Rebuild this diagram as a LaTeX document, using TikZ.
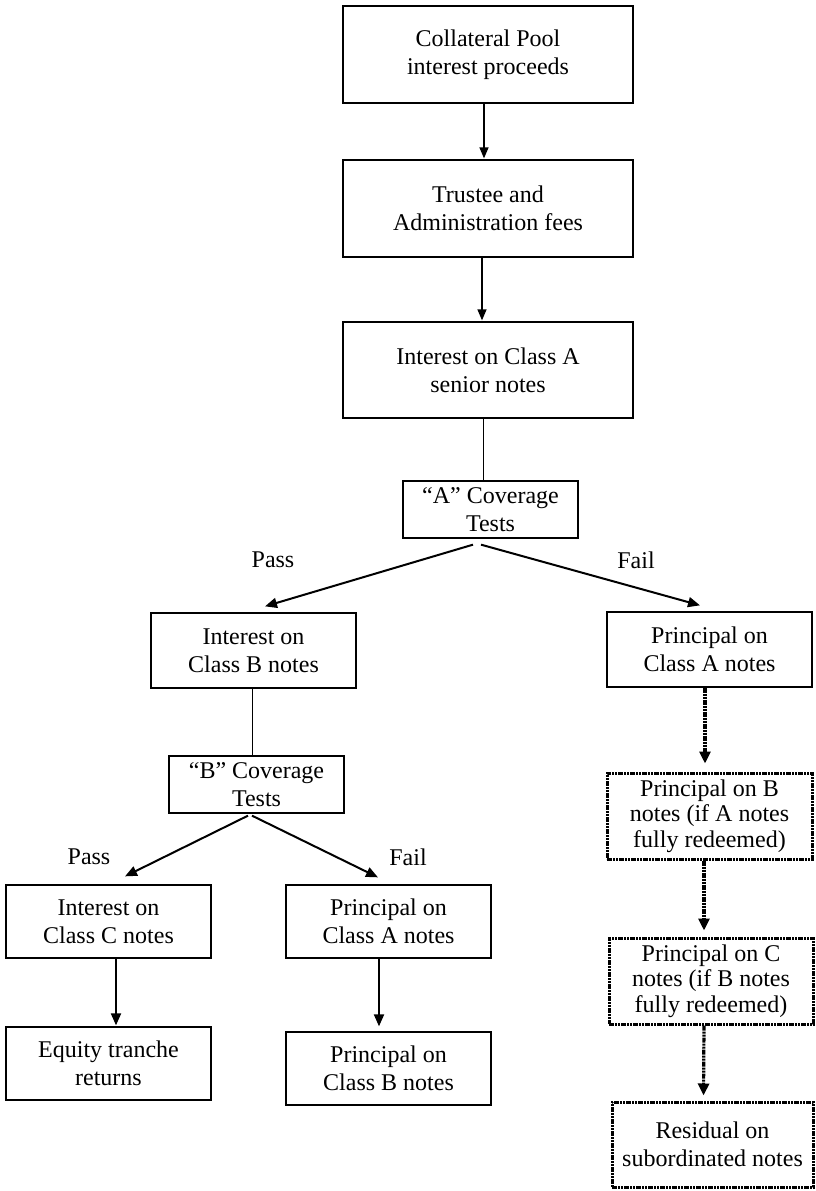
\documentclass[tikz,border=0pt]{standalone}
\usepackage{fontspec}
\setmainfont{Liberation Serif}
\usetikzlibrary{arrows.meta,calc}

\tikzset{
  box/.style={draw, line width=1.3pt, align=center, inner sep=2pt,
    font=\fontsize{24}{28}\selectfont},
  dbox/.style={box, line width=3pt, dashdot, font=\fontsize{24}{25.5}\selectfont},
  dashdot/.style={dash pattern=on 5pt off 1pt on 2pt off 1pt on 2pt off 1pt},
  flow/.style={line width=2pt, -{Triangle[length=12pt,width=10pt]}},
  thinflow/.style={line width=1.4pt, -{Triangle[length=11pt,width=9pt]}},
  link/.style={line width=1pt},
  dflow/.style={line width=3.2pt, dashdot, -{Triangle[length=12pt,width=11pt]}},
  lbl/.style={font=\fontsize{24}{28}\selectfont, inner sep=0pt}
}

\begin{document}
\begin{tikzpicture}[x=1pt,y=-1pt]
  \fill[white] (0,0) rectangle (815,1191);
  \useasboundingbox (0,0) rectangle (815,1191);

  % main trunk
  \node[box, minimum width=290, minimum height=97] (b1) at (488,54.5) {Collateral Pool\\interest proceeds};
  \node[box, minimum width=290, minimum height=97] (b2) at (488,208.5) {Trustee and\\Administration fees};
  \node[box, minimum width=290, minimum height=96] (b3) at (488,370) {Interest on Class A\\senior notes};
  \node[box, minimum width=175, minimum height=57] (tA) at (490.5,509.5) {``A'' Coverage\\Tests};

  % left branch
  \node[box, minimum width=205, minimum height=75] (iB) at (253.5,650.5) {Interest on\\Class B notes};
  \node[box, minimum width=175, minimum height=57] (tB) at (256.5,784.5) {``B'' Coverage\\Tests};
  \node[box, minimum width=205, minimum height=73] (iC) at (108.5,921.5) {Interest on\\Class C notes};
  \node[box, minimum width=205, minimum height=73] (pA2) at (388.5,921.5) {Principal on\\Class A notes};
  \node[box, minimum width=205, minimum height=73] (eq) at (108.5,1063.5) {Equity tranche\\returns};
  \node[box, minimum width=205, minimum height=73] (pB) at (388.5,1068.5) {Principal on\\Class B notes};

  % right branch
  \node[box, minimum width=205, minimum height=75] (pA) at (709.5,649.5) {Principal on\\Class A notes};
  \node[dbox, minimum width=205, minimum height=86] (rB) at (709.5,816) {Principal on B\\notes (if A notes\\fully redeemed)};
  \node[dbox, minimum width=204, minimum height=86] (rC) at (711,981) {Principal on C\\notes (if B notes\\fully redeemed)};
  \node[dbox, minimum width=201, minimum height=85, font=\fontsize{24}{28}\selectfont] (rR) at (712.5,1144.5) {Residual on\\subordinated notes};

  % branch labels
  \node[lbl] (passA) at (273,560) {Pass};
  \node[lbl] (failA) at (636,560) {Fail};
  \node[lbl] (passB) at (89,857) {Pass};
  \node[lbl] (failB) at (408,857) {Fail};

  % connectors
  \draw[thinflow] ($(b1.south)+(-4,0)$) -- ($(b2.north)+(-4,-1)$);
  \draw[thinflow] ($(b2.south)+(-6,0)$) -- ($(b3.north)+(-6,-1)$);
  \draw[link] ($(b3.south)+(-5,0)$) -- ($(tA.north)+(-7.5,0)$);
  \draw[flow] ($(tA.south)+(-17.5,6)$) -- ($(iB.north)+(11.5,-6)$);
  \draw[flow] ($(tA.south)+(-9.5,6)$) -- ($(pA.north)+(-9.5,-6)$);

  \draw[link] ($(iB.south)+(-1.5,0)$) -- ($(tB.north)+(-4.5,0)$);
  \draw[flow] ($(tB.south)+(-8.5,2)$) -- ($(iC.north)+(16.5,-8)$);
  \draw[flow] ($(tB.south)+(-4.5,2)$) -- ($(pA2.north)+(-10.5,-7)$);
  \draw[flow] ($(iC.south)+(7.5,0)$) -- ($(eq.north)+(7.5,-1)$);
  \draw[flow] ($(pA2.south)+(-9.5,0)$) -- ($(pB.north)+(-9.5,-5)$);

  \draw[dflow] ($(pA.south)+(-4.5,0)$) -- ($(rB.north)+(-4.5,-8)$);
  \draw[dflow] ($(rB.south)+(-5.5,0)$) -- ($(rC.north)+(-7,-6)$);
  \draw[dflow] ($(rC.south)+(-7,0)$) -- ($(rR.north)+(-9,-5)$);
\end{tikzpicture}
\end{document}
